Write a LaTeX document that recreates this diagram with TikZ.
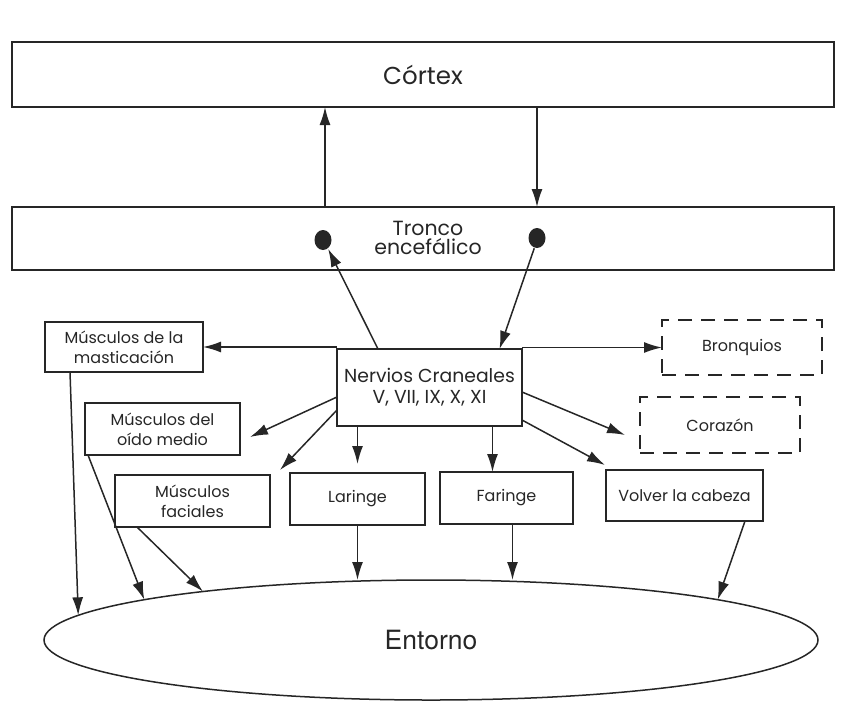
\documentclass[tikz,border=0pt]{standalone}
\usepackage{fontspec}
\setmainfont{Poppins}
\newfontfamily\helv{TeX Gyre Heros}
\usetikzlibrary{arrows.meta,shapes.geometric}
\begin{document}
\begin{tikzpicture}[x=1pt,y=-1pt,
  line width=1.5pt, color=black!85,
  arr/.style={-{Latex[length=18pt,width=11pt]}},
  bigbox/.style={draw,minimum width=822pt,outer sep=0pt},
  sbox/.style={draw,outer sep=0pt,inner sep=1pt,align=center,font=\fontsize{16}{20}\selectfont},
  dbox/.style={sbox,dash pattern=on 14pt off 9pt},
  dotn/.style={ellipse,fill=black!85,minimum width=17pt,minimum height=20pt,inner sep=0pt}
]
\useasboundingbox (0,0) rectangle (858,713);
\node[bigbox,minimum height=65pt,font=\fontsize{24.5}{26}\selectfont] (cortex) at (423,74.5) {Córtex};
\node[bigbox,minimum height=63pt] (tronco) at (423,238.5) {};
\node[align=center,font=\fontsize{20.5}{19}\selectfont] (tronco-t) at (428,238) {Tronco\\encefálico};
\node[dotn] (d1) at (323,240) {};
\node[dotn] (d2) at (537,238) {};
\node[sbox,minimum width=185pt,minimum height=77pt,font=\fontsize{18.8}{21}\selectfont] (nerv) at (429.5,387.5) {Nervios Craneales\\V, VII, IX, X, XI};
\node[sbox,minimum width=158pt,minimum height=50pt] (mast) at (124,347) {Músculos de la\\masticación};
\node[dbox,minimum width=160pt,minimum height=55pt] (bron) at (742,347.5) {Bronquios};
\node[sbox,minimum width=155pt,minimum height=52pt] (oido) at (162.5,429) {Músculos del\\oído medio};
\node[dbox,minimum width=160pt,minimum height=56pt] (cora) at (720,425) {Corazón};
\node[sbox,minimum width=155pt,minimum height=52pt] (faci) at (192.5,501) {Músculos\\faciales};
\node[sbox,minimum width=135pt,minimum height=52pt] (lar) at (357.5,499) {Laringe};
\node[sbox,minimum width=133pt,minimum height=52pt] (far) at (506.5,498) {Faringe};
\node[sbox,minimum width=157pt,minimum height=51pt] (volv) at (684.5,495.5) {Volver la cabeza};
\node[draw,ellipse,outer sep=0pt,minimum width=774pt,minimum height=120pt,font=\helv\fontsize{26.5}{28}\selectfont] (ent) at (431,640) {Entorno};

\draw[arr] ([xshift=-98pt]tronco.north) -- ([xshift=-98pt]cortex.south);
\draw[arr] ([xshift=114pt]cortex.south) -- ([xshift=114pt]tronco.north);
\draw[arr] ([xshift=-51.5pt]nerv.north) -- (d1.-60);
\draw[arr] (d2.-105) -- ([xshift=70pt]nerv.north);
\draw[arr] (nerv.west |- mast.east) -- (mast.east);
\draw[arr] (nerv.east |- bron.west) -- (bron.west);
\draw[arr] ([yshift=-9.5pt]nerv.west) -- ([shift={(10,8)}]oido.east);
\draw[arr] ([yshift=-22.5pt]nerv.west) -- ([shift={(10,-5)}]faci.north east);
\draw[arr] ([yshift=-4.5pt]nerv.east) -- ([shift={(-15,10)}]cora.west);
\draw[arr] ([yshift=-32.5pt]nerv.east) -- ([shift={(-1,-5)}]volv.north west);
\draw[arr] (nerv.south -| lar.north) -- ([yshift=9pt]lar.north);
\draw[arr] ([xshift=63pt]nerv.south) -- ([xshift=63pt]nerv.south |- far.north);

\draw[arr] ([xshift=25pt]mast.south west) -- (ent.176.5);
\draw[arr] ([xshift=3pt]oido.south west) -- (ent.172.9);
\draw[arr] ([xshift=22pt]faci.south west) -- (ent.168.9);
\draw[arr] (lar.south) -- (lar.south |- ent.north);
\draw[arr] ([xshift=6pt]far.south) -- ([xshift=6pt]far.south |- ent.north);
\draw[arr] ([xshift=-18pt]volv.south east) -- (ent.8);
\end{tikzpicture}
\end{document}
